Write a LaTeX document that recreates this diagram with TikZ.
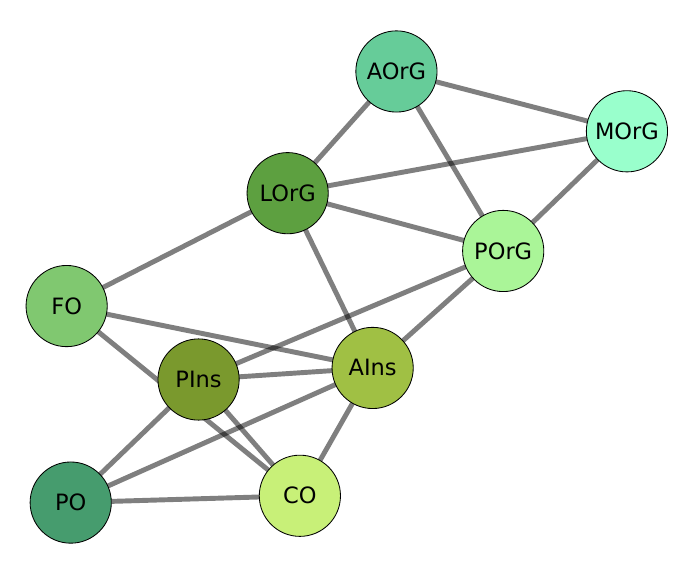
\documentclass[tikz,border=0pt]{standalone}
\usepackage{fontspec}
\setmainfont{DejaVu Sans}
\usepackage{tkz-graph}
\usetikzlibrary{arrows}
\usetikzlibrary{shapes}
\pgfdeclarelayer{background}
\pgfsetlayers{background,main}

\definecolor{colAOrG}{HTML}{66CC99}
\definecolor{colMOrG}{HTML}{99FFCC}
\definecolor{colLOrG}{HTML}{5DA040}
\definecolor{colPOrG}{HTML}{AAF598}
\definecolor{colFO}{HTML}{80C870}
\definecolor{colPIns}{HTML}{7A992D}
\definecolor{colAIns}{HTML}{A0C044}
\definecolor{colPO}{HTML}{469C6E}
\definecolor{colCO}{HTML}{C8F078}

\begin{document}
\begin{tikzpicture}[scale = 17]
	\tikzstyle{VertexStyle} = []
	\tikzstyle{EdgeStyle} = [line width = 3.5pt, draw = black, draw opacity = 0.5]
	\tikzstyle{regionStyle}=[shape = circle, minimum size = 2.03cm, inner sep = 0pt, draw, line width = 0.6pt, font = \fontsize{16}{19}\selectfont]
	\useasboundingbox (0,0) rectangle (1,0.8441);
	\Vertex[style = {regionStyle, fill = colAOrG}, x = 0.583, y = 0.739, L = {AOrG}]{AOrG}
	\Vertex[style = {regionStyle, fill = colMOrG}, x = 0.922, y = 0.651, L = {MOrG}]{MOrG}
	\Vertex[style = {regionStyle, fill = colLOrG}, x = 0.423, y = 0.560, L = {LOrG}]{LOrG}
	\Vertex[style = {regionStyle, fill = colPOrG}, x = 0.740, y = 0.475, L = {POrG}]{POrG}
	\Vertex[style = {regionStyle, fill = colFO}, x = 0.098, y = 0.394, L = {FO}]{FO}
	\Vertex[style = {regionStyle, fill = colPIns}, x = 0.292, y = 0.286, L = {PIns}]{PIns}
	\Vertex[style = {regionStyle, fill = colAIns}, x = 0.548, y = 0.303, L = {AIns}]{AIns}
	\Vertex[style = {regionStyle, fill = colPO}, x = 0.104, y = 0.105, L = {PO}]{PO}
	\Vertex[style = {regionStyle, fill = colCO}, x = 0.441, y = 0.115, L = {CO}]{CO}
	\begin{pgfonlayer}{background}
	\Edge(AOrG)(MOrG)
	\Edge(AOrG)(LOrG)
	\Edge(AOrG)(POrG)
	\Edge(MOrG)(LOrG)
	\Edge(MOrG)(POrG)
	\Edge(LOrG)(POrG)
	\Edge(LOrG)(FO)
	\Edge(LOrG)(AIns)
	\Edge(POrG)(PIns)
	\Edge(POrG)(AIns)
	\Edge(FO)(AIns)
	\Edge(FO)(CO)
	\Edge(PIns)(AIns)
	\Edge(PIns)(PO)
	\Edge(PIns)(CO)
	\Edge(AIns)(PO)
	\Edge(AIns)(CO)
	\Edge(PO)(CO)
	\end{pgfonlayer}
	\end{tikzpicture}
\end{document}
